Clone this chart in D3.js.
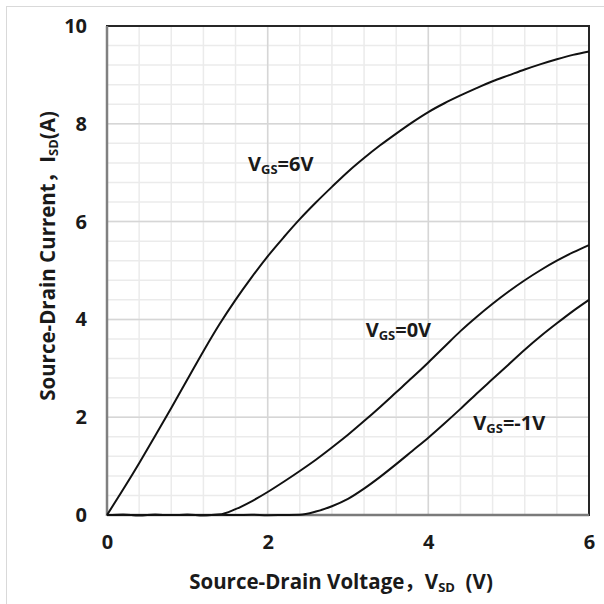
<!DOCTYPE html>
<html><head><meta charset="utf-8">
<script src="https://cdn.jsdelivr.net/npm/d3@7"></script>
<style>body{margin:0;background:#fff}svg{display:block}</style>
</head><body>
<script>
// ---- data ----
const vsd = [0,0.2,0.4,0.6,0.8,1.0,1.2,1.4,1.6,1.8,2.0,2.2,2.4,2.6,2.8,3.0,3.2,3.4,3.6,3.8,4.0,4.2,4.4,4.6,4.8,5.0,5.2,5.4,5.6,5.8,6.0];
const isd_vgs6 = [0,0.52,1.06,1.62,2.19,2.77,3.35,3.9,4.4,4.86,5.29,5.68,6.05,6.39,6.71,7.02,7.3,7.56,7.8,8.03,8.24,8.42,8.58,8.73,8.87,8.99,9.11,9.22,9.32,9.41,9.48];
const isd_vgs0 = [0,0.005,-0.005,0.005,0,0.005,-0.005,0.01,0.12,0.28,0.47,0.68,0.9,1.13,1.38,1.64,1.92,2.21,2.51,2.81,3.12,3.44,3.76,4.05,4.32,4.57,4.8,5.01,5.2,5.37,5.52];
const isd_vgsm1 = [0,0.005,-0.005,0.005,0,0.005,-0.005,0.005,0,0.005,-0.005,0,0.005,0.07,0.18,0.33,0.54,0.78,1.04,1.31,1.58,1.87,2.17,2.48,2.78,3.08,3.38,3.66,3.92,4.17,4.4];
const seriesLabels = [["V","GS","=6V"],["V","GS","=0V"],["V","GS","=-1V"]];
const labelAnchors = [[1.755,7.04],[3.22,3.65],[4.56,1.74]];
const xTicks = [0,2,4,6];
const yTicks = [0,2,4,6,8,10];

const W=604,H=604;
const m={l:107,r:15,t:26,b:89};
const svg=d3.select("body").append("svg").attr("width",W).attr("height",H);
const font="'Open Sans','Noto Sans CJK SC',sans-serif";

// outer chart-area frame
svg.append("rect").attr("x",6.5).attr("y",6.5).attr("width",700).attr("height",700)
  .attr("fill","none").attr("stroke","#d9d9d9").attr("stroke-width",1);

const x=d3.scaleLinear().domain([0,6]).range([m.l,W-m.r]);
const y=d3.scaleLinear().domain([0,10]).range([H-m.b,m.t]);

// grid
const g=svg.append("g");
const minorX=d3.range(0,6.0001,0.4), minorY=d3.range(0,10.0001,0.4);
g.selectAll(".mx").data(minorX).join("line").attr("x1",d=>x(d)).attr("x2",d=>x(d))
  .attr("y1",y(0)).attr("y2",y(10)).attr("stroke","#ebebeb").attr("stroke-width",1.5);
g.selectAll(".my").data(minorY).join("line").attr("y1",d=>y(d)).attr("y2",d=>y(d))
  .attr("x1",x(0)).attr("x2",x(6)).attr("stroke","#ebebeb").attr("stroke-width",1.5);
g.selectAll(".Mx").data(xTicks).join("line").attr("x1",d=>x(d)).attr("x2",d=>x(d))
  .attr("y1",y(0)).attr("y2",y(10)).attr("stroke","#d6d6d6").attr("stroke-width",1.5);
g.selectAll(".My").data(yTicks).join("line").attr("y1",d=>y(d)).attr("y2",d=>y(d))
  .attr("x1",x(0)).attr("x2",x(6)).attr("stroke","#d6d6d6").attr("stroke-width",1.5);

// plot border
svg.append("rect").attr("x",x(0)).attr("y",y(10)).attr("width",x(6)-x(0)).attr("height",y(0)-y(10))
  .attr("fill","none").attr("stroke","#262626").attr("stroke-width",2);
// axes lines (gray)
svg.append("line").attr("x1",x(0)).attr("x2",x(0)).attr("y1",y(10)).attr("y2",y(0)+1)
  .attr("stroke","#808080").attr("stroke-width",2.5);
svg.append("line").attr("x1",x(0)).attr("x2",x(6)).attr("y1",y(0)).attr("y2",y(0))
  .attr("stroke","#7a7a7a").attr("stroke-width",2.5);

// curves
const line=d3.line().x((d,i)=>x(vsd[i])).y(d=>y(d)).curve(d3.curveMonotoneX);
[isd_vgs6,isd_vgs0,isd_vgsm1].forEach(s=>{
  svg.append("path").datum(s).attr("d",line).attr("fill","none")
    .attr("stroke","#111").attr("stroke-width",2);
});

// axes
const ax=svg.append("g").attr("transform",`translate(0,${y(0)})`)
  .call(d3.axisBottom(x).tickValues(xTicks).tickSize(0).tickPadding(20).tickFormat(d3.format("d")));
const ay=svg.append("g").attr("transform",`translate(${x(0)},0)`)
  .call(d3.axisLeft(y).tickValues(yTicks).tickSize(0).tickPadding(20).tickFormat(d3.format("d")));
[ax,ay].forEach(a=>{a.select(".domain").remove();
  a.selectAll("text").attr("font-family",font).attr("font-size",20).attr("font-weight","bold").attr("fill","#1a1a1a");});

// series labels
seriesLabels.forEach((lb,i)=>{
  const t=svg.append("text").attr("x",x(labelAnchors[i][0])).attr("y",y(labelAnchors[i][1]))
    .attr("font-family",font).attr("font-weight","bold").attr("font-size",20).attr("fill","#1a1a1a");
  t.append("tspan").text(lb[0]);
  t.append("tspan").attr("font-size",13).attr("dy",3).text(lb[1]);
  t.append("tspan").attr("dy",-3).text(lb[2]);
});

// axis titles
const xt=svg.append("text").attr("x",341).attr("y",589).attr("text-anchor","middle")
  .attr("font-family",font).attr("font-weight","bold").attr("font-size",20.5).attr("fill","#1a1a1a");
xt.append("tspan").text("Source-Drain Voltage，V");
xt.append("tspan").attr("font-size",13).attr("dy",3).text("SD");
xt.append("tspan").attr("dy",-3).text("\u00a0\u00a0(V)");

const yt=svg.append("text").attr("transform","translate(55,256) rotate(-90)").attr("text-anchor","middle")
  .attr("font-family",font).attr("font-weight","bold").attr("font-size",20.5).attr("fill","#1a1a1a");
yt.append("tspan").text("Source-Drain Current，I");
yt.append("tspan").attr("font-size",13).attr("dy",3).text("SD");
yt.append("tspan").attr("dy",-3).text("(A)");
</script>
</body></html>
